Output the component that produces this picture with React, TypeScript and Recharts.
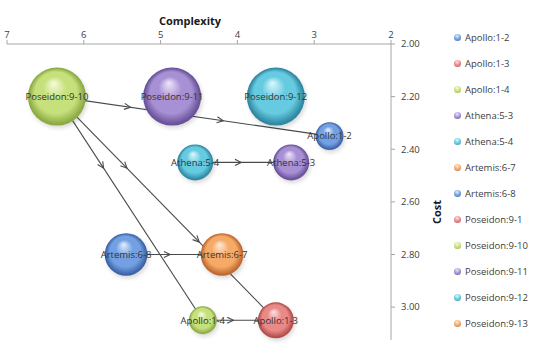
import React from 'react';
import {
  ScatterChart,
  Scatter,
  XAxis,
  YAxis,
  ZAxis,
  ReferenceLine,
  LabelList,
  Label
} from 'recharts';

const projects = [
  'Apollo:1-2', 'Apollo:1-3', 'Apollo:1-4', 'Athena:5-3', 'Athena:5-4', 'Artemis:6-7',
  'Artemis:6-8', 'Poseidon:9-1', 'Poseidon:9-10', 'Poseidon:9-11', 'Poseidon:9-12', 'Poseidon:9-13'
];
const complexity = [2.8, 3.5, 4.45, 3.3, 4.55, 4.2, 5.45, null, 6.35, 4.85, 3.5, null];
const cost = [2.35, 3.05, 3.05, 2.45, 2.45, 2.8, 2.8, null, 2.2, 2.2, 2.2, null];
const effort = [3, 5, 3, 5, 5, 7, 7, null, 13, 13, 13, null];

const complexityTicks = [2, 3, 4, 5, 6, 7];
const costTicks = [2, 2.2, 2.4, 2.6, 2.8, 3.0];

// from -> to
const dependencies = [
  ['Poseidon:9-10', 'Apollo:1-2'],
  ['Poseidon:9-10', 'Apollo:1-4'],
  ['Poseidon:9-10', 'Apollo:1-3'],
  ['Athena:5-4', 'Athena:5-3'],
  ['Artemis:6-8', 'Artemis:6-7'],
  ['Apollo:1-4', 'Apollo:1-3']
];
// where the arrow heads sit along each line (0..1)
const arrowAt = [[0.27, 0.61], [0.32], [0.32, 0.65], [0.48], [0.46], [0.42]];

// light, mid, dark for each Excel palette colour
const shades = [
  ['#e4eefc', '#72a0e2', '#3d64a8'],
  ['#fde2e2', '#e88a88', '#b24e4c'],
  ['#f6fcdc', '#c6e07c', '#8dab45'],
  ['#eee6fa', '#a790d4', '#6a539a'],
  ['#dff7fc', '#66cbe0', '#2f89a2'],
  ['#feeadb', '#f6aa68', '#bf6a30']
];

const font = '"Open Sans", sans-serif';

const pointOf = (name: string) => {
  const i = projects.indexOf(name);
  return { x: complexity[i] as number, y: cost[i] as number };
};

const makeBubble = (idx: number) => (props: any) => {
  const { cx, cy, width } = props;
  const r = width / 2;
  return (
    <g>
      <circle cx={cx + 1.5} cy={cy + 2.5} r={r} fill="#000" opacity={0.15} filter="url(#soft)" />
      <circle cx={cx} cy={cy} r={r} fill={`url(#ball${idx % 6})`} />
    </g>
  );
};

const makeArrowLine = (fracs: number[]) => (props: any) => {
  const { x1, y1, x2, y2 } = props;
  const dx = x2 - x1;
  const dy = y2 - y1;
  const a = Math.atan2(dy, dx);
  const L = 7;
  const s = 0.45;
  return (
    <g stroke="#4a4a4a" strokeWidth={1.1} fill="none">
      <line x1={x1} y1={y1} x2={x2} y2={y2} />
      {fracs.map((f, k) => {
        const px = x1 + dx * f;
        const py = y1 + dy * f;
        return (
          <polyline
            key={k}
            points={`${px - L * Math.cos(a - s)},${py - L * Math.sin(a - s)} ${px},${py} ${px - L * Math.cos(a + s)},${py - L * Math.sin(a + s)}`}
          />
        );
      })}
    </g>
  );
};

const App = () => {
  return (
    <div style={{ position: 'absolute', left: 0, top: 0, width: 552, height: 352, background: '#fff' }}>
      <ScatterChart width={552} height={352} margin={{ top: 10, right: 71, bottom: 12, left: 7 }}>
        <defs>
          {shades.map((c, i) => (
            <radialGradient key={i} id={`ball${i}`} cx="50%" cy="50%" r="50%" fx="44%" fy="26%">
              <stop offset="0%" stopColor={c[0]} />
              <stop offset="40%" stopColor={c[1]} />
              <stop offset="72%" stopColor={c[1]} />
              <stop offset="96%" stopColor={c[2]} />
              <stop offset="100%" stopColor={c[2]} />
            </radialGradient>
          ))}
          <filter id="soft" x="-20%" y="-20%" width="140%" height="140%">
            <feGaussianBlur stdDeviation="2" />
          </filter>
        </defs>
        <XAxis
          type="number"
          dataKey="x"
          orientation="top"
          domain={[2, 7]}
          ticks={complexityTicks}
          reversed
          height={34}
          tick={{ fontSize: 9.5, fill: '#404040', fontFamily: font }}
          axisLine={{ stroke: '#a6a6a6' }}
          tickLine={{ stroke: '#a6a6a6' }}
          tickSize={4}
        >
          <Label
            content={({ viewBox }: any) => (
              <text x={viewBox.x + viewBox.width / 2 - 9} y={viewBox.y + 15} textAnchor="middle"
                fontSize={11} fontWeight="bold" fontFamily={font} fill="#1a1a1a">
                Complexity
              </text>
            )}
          />
        </XAxis>
        <YAxis
          type="number"
          dataKey="y"
          orientation="right"
          domain={[2, 3.125]}
          ticks={costTicks}
          reversed
          width={90}
          tickFormatter={(v: number) => v.toFixed(2)}
          tick={{ fontSize: 9.5, fill: '#404040', fontFamily: font }}
          axisLine={{ stroke: '#a6a6a6' }}
          tickLine={{ stroke: '#a6a6a6' }}
          tickSize={4}
          tickMargin={6}
        >
          <Label
            content={({ viewBox }: any) => {
              const x = viewBox.x + 45;
              const y = viewBox.y + viewBox.height / 2 + 20;
              return (
                <text x={x} y={y} transform={`rotate(-90 ${x} ${y})`} textAnchor="middle"
                  dominantBaseline="central" fontSize={11} fontWeight="bold" fontFamily={font} fill="#1a1a1a">
                  Cost
                </text>
              );
            }}
          />
        </YAxis>
        <ZAxis type="number" dataKey="z" domain={[0, 13]} range={[0, 2642]} />
        {dependencies.map(([from, to], i) => (
          <ReferenceLine
            key={i}
            segment={[pointOf(from), pointOf(to)]}
            shape={makeArrowLine(arrowAt[i])}
          />
        ))}
        {projects.map((name, i) => (
          <Scatter
            key={name}
            name={name}
            data={complexity[i] === null ? [] : [{ x: complexity[i], y: cost[i], z: effort[i], name }]}
            shape={makeBubble(i)}
            isAnimationActive={false}
          >
            <LabelList dataKey="name" position="center" fontSize={9.5} fill="#333" fontFamily={font} />
          </Scatter>
        ))}
      </ScatterChart>
      <div style={{ position: 'absolute', left: 454, top: 24, fontFamily: font, fontSize: 9.5, color: '#404040' }}>
        {projects.map((name, i) => {
          const c = shades[i % 6];
          return (
            <div key={name} style={{ height: 26, display: 'flex', alignItems: 'center', whiteSpace: 'nowrap' }}>
              <span
                style={{
                  width: 7,
                  height: 7,
                  borderRadius: '50%',
                  marginRight: 4,
                  background: `radial-gradient(circle at 45% 30%, ${c[0]}, ${c[1]} 50%, ${c[2]})`
                }}
              />
              {name}
            </div>
          );
        })}
      </div>
    </div>
  );
};

export default App;
